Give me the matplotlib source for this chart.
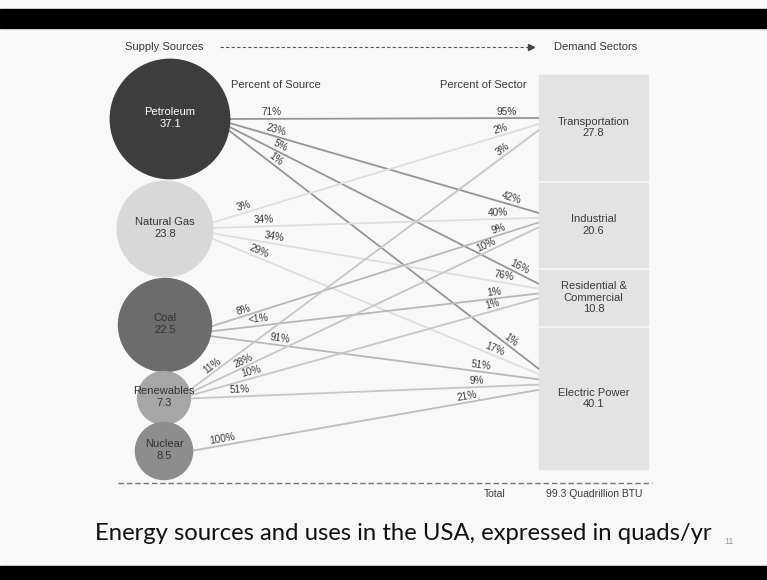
import numpy as np
import matplotlib
matplotlib.use("Agg")
import matplotlib.pyplot as plt
from matplotlib.patches import Circle, Rectangle

# supply side (quadrillion BTU)
sources = ["Petroleum", "Natural Gas", "Coal", "Renewables", "Nuclear"]
source_vals = [37.1, 23.8, 22.5, 7.3, 8.5]

# demand side (quadrillion BTU)
sectors = ["Transportation", "Industrial", "Residential &\nCommercial", "Electric Power"]
sector_vals = [27.8, 20.6, 10.8, 40.1]

# flows: source index, sector index, percent of source, percent of sector
link_src = [0, 0, 0, 0, 1, 1, 1, 1, 2, 2, 2, 3, 3, 3, 3, 4]
link_dst = [0, 1, 2, 3, 0, 1, 2, 3, 1, 2, 3, 0, 1, 2, 3, 3]
pct_source = ["71%", "23%", "5%", "1%", "3%", "34%", "34%", "29%",
              "8%", "<1%", "91%", "11%", "28%", "10%", "51%", "100%"]
pct_sector = ["95%", "42%", "16%", "1%", "2%", "40%", "76%", "17%",
              "9%", "1%", "51%", "3%", "10%", "1%", "9%", "21%"]
total = 99.3

# ---- layout (pixel units, y down) ----
W, H = 767, 580
circ_x = [170, 165, 165, 164, 164]
circ_y = [119, 229, 325, 398, 451]
circ_k = 9.8                       # radius = k * sqrt(value)
circ_col = ["#3d3d3d", "#d8d8d8", "#6c6c6c", "#a6a6a6", "#8d8d8d"]
circ_txt = ["white", "#333333", "#333333", "#333333", "#333333"]
line_col = ["#959595", "#dedede", "#b8b8b8", "#c6c6c6", "#bdbdbd"]
src_port = [119, 223, 327, 391, 451]
src_step = [3.5, 5, 4.5, 2.5, 0]

box_x0, box_x1 = 539, 648
box_top, box_gap = 75, 3
box_min, box_k = 23.6, 2.93        # height = min + k * value
dst_port = [118, 213, 284, 369]
dst_step = [6, 4.7, 4.7, 5.2]

lab_src_x = [272, 275, 278, 273, 245, 264, 273, 257, 245, 259, 279, 215, 245, 253, 240, 223]
lab_dst_x = [507, 510, 517, 508, 502, 498, 503, 493, 500, 495, 480, 506, 488, 494, 477, 468]

font = "Liberation Sans"
tcol = "#3a3a3a"

fig = plt.figure(figsize=(W / 100, H / 100), dpi=100, facecolor="#f8f8f8")
ax = fig.add_axes([0, 0, 1, 1])
ax.set_xlim(0, W)
ax.set_ylim(H, 0)
ax.axis("off")

# slide bars
ax.add_patch(Rectangle((0, 9), W, 19, color="black", zorder=0))
ax.add_patch(Rectangle((0, 566), W, 14, color="black", zorder=0))

# demand boxes
box_y = []
y = box_top
for v in sector_vals:
    h = box_min + box_k * v
    box_y.append((y, h))
    y += h + box_gap
for i, (name, v) in enumerate(zip(sectors, sector_vals)):
    y0, h = box_y[i]
    ax.add_patch(Rectangle((box_x0, y0), box_x1 - box_x0, h, color="#e3e3e3", zorder=1))
    ax.text((box_x0 + box_x1) / 2, y0 + h / 2, "%s\n%.1f" % (name, v), ha="center", va="center",
            fontsize=8, family=font, color=tcol, linespacing=1.15, zorder=5)

# flow lines with percent labels
src_count = [0] * len(sources)
dst_count = [0] * len(sectors)
for n in range(len(link_src)):
    s, d = link_src[n], link_dst[n]
    r = circ_k * np.sqrt(source_vals[s])
    x0 = circ_x[s] + r - 2
    y0 = src_port[s] + src_step[s] * src_count[s]
    x1 = box_x0
    y1 = dst_port[d] + dst_step[d] * dst_count[d]
    src_count[s] += 1
    dst_count[d] += 1
    ax.plot([x0, x1], [y0, y1], color=line_col[s], lw=1.3, zorder=2, solid_capstyle="butt")
    ang = np.degrees(np.arctan2(-(y1 - y0), x1 - x0))
    for lx, txt in ((lab_src_x[n], pct_source[n]), (lab_dst_x[n], pct_sector[n])):
        ly = y0 + (y1 - y0) * (lx - x0) / (x1 - x0)
        ax.text(lx, ly - 1.5, txt, ha="center", va="bottom", rotation=ang, rotation_mode="anchor",
                fontsize=7.2, family=font, color=tcol, zorder=4)

# supply circles
for i, (name, v) in enumerate(zip(sources, source_vals)):
    r = circ_k * np.sqrt(v)
    ax.add_patch(Circle((circ_x[i], circ_y[i]), r, color=circ_col[i], zorder=3))
    ax.text(circ_x[i], circ_y[i] - 1, "%s\n%.1f" % (name, v), ha="center", va="center",
            fontsize=8, family=font, color=circ_txt[i], linespacing=1.15, zorder=5)

# headers
ax.text(125, 47, "Supply Sources", ha="left", va="center", fontsize=8, family=font, color=tcol)
ax.text(637, 47, "Demand Sectors", ha="right", va="center", fontsize=8, family=font, color=tcol)
ax.plot([220, 529], [47, 47], ls=(0, (3, 2)), color="#555555", lw=0.8)
ax.plot(531, 47, marker=">", ms=4, color="#444444")
ax.text(276, 85, "Percent of Source", ha="center", va="center", fontsize=8, family=font, color=tcol)
ax.text(483, 85, "Percent of Sector", ha="center", va="center", fontsize=8, family=font, color=tcol)

# total line
ax.plot([118, 652], [483, 483], ls=(0, (4, 2)), color="#777777", lw=1)
ax.text(495, 494, "Total", ha="center", va="center", fontsize=7.5, family=font, color=tcol)
ax.text(594, 494, "%.1f Quadrillion BTU" % total, ha="center", va="center", fontsize=7.5,
        family=font, color=tcol)

# caption
ax.text(403, 533, "Energy sources and uses in the USA, expressed in quads/yr", ha="center",
        va="center", fontsize=17.2, family="Lato", color="#111111")
ax.text(729, 541, "11", ha="center", va="center", fontsize=6.5, family=font, color="#999999")

fig.savefig("out.png", dpi=100, facecolor=fig.get_facecolor())
